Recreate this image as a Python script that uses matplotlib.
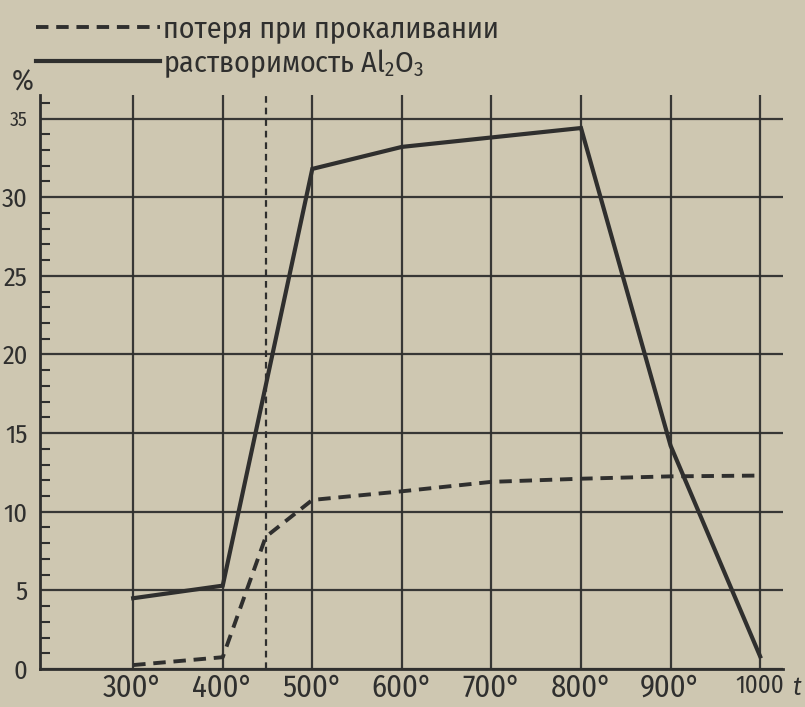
""" Solubility of Al2O3 and loss on ignition vs calcination temperature. """
import matplotlib as mpl
mpl.use('Agg')
import matplotlib.pyplot as plt
from matplotlib.ticker import MultipleLocator

# ----- data -----
loss_temps = [300, 400, 448, 500, 600, 700, 800, 900, 1000]
loss_values = [0.25, 0.75, 8.4, 10.75, 11.3, 11.9, 12.1, 12.25, 12.3]

sol_temps = [300, 400, 500, 600, 700, 800, 900, 1000]
sol_values = [4.5, 5.3, 31.8, 33.2, 33.8, 34.4, 14.2, 0.8]

marker_temp = 448  # dashed vertical line

x_ticks = [300, 400, 500, 600, 700, 800, 900, 1000]
x_labels = ['300°', '400°', '500°', '600°', '700°', '800°', '900°', '1000']
y_ticks = [0, 5, 10, 15, 20, 25, 30, 35]

label_loss = 'потеря при прокаливании'
label_sol = r'растворимость Al$_2$O$_3$'

paper = '#cec7b1'
ink = '#2f2f2e'

plt.rcParams['font.family'] = ['Fira Sans Condensed', 'DejaVu Sans']
plt.rcParams['mathtext.fontset'] = 'custom'
plt.rcParams['mathtext.rm'] = 'Fira Sans Condensed'
plt.rcParams['mathtext.it'] = 'Fira Sans Condensed'

fig = plt.figure(figsize=(8.05, 7.07), dpi=100, facecolor=paper)
ax = fig.add_axes([40 / 805, 38 / 707, 743 / 805, 574 / 707])
ax.set_facecolor(paper)

ax.set_xlim(196, 1025.5)
ax.set_ylim(0, 36.5)

# grid
ax.set_xticks(x_ticks)
ax.set_xticklabels(x_labels, fontsize=22)
ax.get_xticklabels()[-1].set_fontsize(18)
ax.set_yticks(y_ticks)
ax.set_yticklabels([str(v) for v in y_ticks], fontsize=19)
ax.get_yticklabels()[-1].set_fontsize(14)
ax.yaxis.set_minor_locator(MultipleLocator(1))
ax.grid(True, which='major', color=ink, linewidth=1.6, alpha=0.95)
ax.set_axisbelow(True)
ax.tick_params(axis='both', which='major', length=0, colors=ink)
ax.tick_params(axis='x', pad=3)
ax.tick_params(axis='y', pad=9)
ax.tick_params(axis='y', which='minor', direction='in', length=7, width=1.5, color=ink)
ax.tick_params(axis='x', which='minor', length=0)

for side in ['top', 'right']:
    ax.spines[side].set_visible(False)
for side in ['left', 'bottom']:
    ax.spines[side].set_color(ink)
    ax.spines[side].set_linewidth(2)

# curves
ax.plot(loss_temps, loss_values, color=ink, linewidth=2.8, dashes=(3.2, 2.0),
        label=label_loss, solid_capstyle='butt')
ax.plot(sol_temps, sol_values, color=ink, linewidth=3.0, label=label_sol,
        solid_joinstyle='miter')
ax.axvline(marker_temp, color=ink, linewidth=1.6, dashes=(3, 2.2))

# axis unit labels
fig.text(23 / 805, 1 - 82 / 707, '%', fontsize=21, color=ink, ha='center', va='center')
fig.text(796 / 805, 1 - 688 / 707, 't', fontsize=19, color=ink, ha='center', va='center',
         style='italic')

leg = ax.legend(loc='upper left', bbox_to_anchor=(36 / 805, 1 - 15 / 707),
                bbox_transform=fig.transFigure, frameon=False, fontsize=21.5,
                handlelength=4.15, handletextpad=0.1, labelspacing=0.12,
                borderpad=0, borderaxespad=0)
for t in leg.get_texts():
    t.set_color(ink)

fig.savefig('out.png', dpi=100, facecolor=paper)
